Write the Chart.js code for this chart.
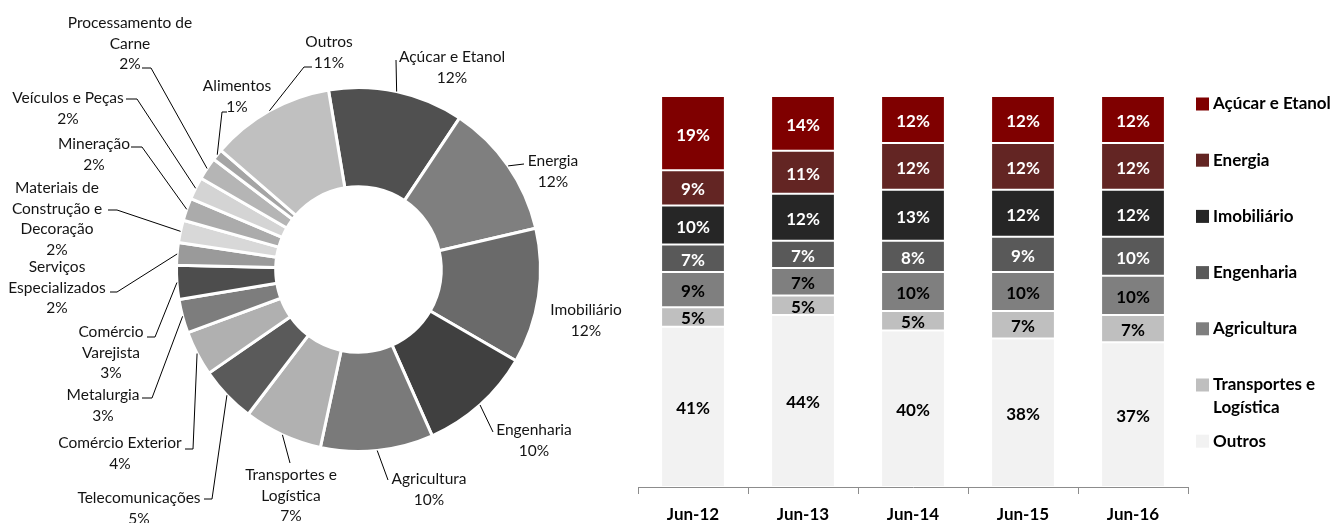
<!DOCTYPE html>
<html>
<head>
<meta charset="utf-8">
<title>Carteira por setor</title>
<style>
  body { margin: 0; background: #fff; }
  #wrap { position: relative; width: 1340px; height: 523px; }
  #pie { position: absolute; left: 0; top: 0; }
  #bars { position: absolute; left: 630px; top: 0; }
</style>
</head>
<body>
<div id="wrap">
  <canvas id="pie" width="630" height="523"></canvas>
  <canvas id="bars" width="710" height="523"></canvas>
</div>
<script src="https://cdn.jsdelivr.net/npm/chart.js"></script>
<script>
// --- doughnut data (clockwise from top) ---
const sectors = [
  "Açúcar e Etanol", "Energia", "Imobiliário", "Engenharia", "Agricultura",
  "Transportes e\nLogística", "Telecomunicações", "Comércio Exterior", "Metalurgia",
  "Comércio\nVarejista", "Serviços\nEspecializados", "Materiais de\nConstrução e\nDecoração",
  "Mineração", "Veículos e Peças", "Processamento de\nCarne", "Alimentos", "Outros"
];
const sectorShares = [12, 12, 12, 10, 10, 7, 5, 4, 3, 3, 2, 2, 2, 2, 2, 1, 11];
const sectorColors = [
  "#505050", "#7f7f7f", "#6a6a6a", "#404040", "#7a7a7a", "#b1b1b1", "#5a5a5a",
  "#b0b0b0", "#7d7d7d", "#4d4d4d", "#9a9a9a", "#d8d8d8", "#ababab", "#d4d4d4",
  "#b5b5b5", "#a5a5a5", "#c0c0c0"
];

// label placement (Excel labels were moved by hand), leader points go from slice outwards
const pieLabelLayout = [
  { x: 452, y: 57,  leader: [[396, 60]] },
  { x: 553, y: 161, leader: [[524, 164]] },
  { x: 586, y: 310, leader: [] },
  { x: 534, y: 430, leader: [[493, 432]] },
  { x: 429, y: 479, leader: [[388, 480]] },
  { x: 291, y: 475, leader: [[290, 463]] },
  { x: 139, y: 498, leader: [[212, 499], [204, 499]] },
  { x: 120, y: 443, leader: [[193, 449], [185, 449]] },
  { x: 103, y: 395, leader: [[152, 398], [142, 398]] },
  { x: 111, y: 332, leader: [[155, 337], [147, 337]] },
  { x: 57,  y: 267, leader: [[117, 292], [110, 292]] },
  { x: 57,  y: 188, leader: [[117, 210], [108, 210]] },
  { x: 94,  y: 144, leader: [[142, 147], [131, 147]] },
  { x: 68,  y: 98,  leader: [[137, 99], [126, 99]] },
  { x: 130, y: 23,  leader: [[151, 68], [142, 68]] },
  { x: 237, y: 86,  leader: [[222, 112], [227, 112]] },
  { x: 329, y: 42,  leader: [[304, 67], [312, 67]] }
];

// --- stacked bar data ---
const periods = ["Jun-12", "Jun-13", "Jun-14", "Jun-15", "Jun-16"];
const acucarEtanol = [19, 14, 12, 12, 12];
const energia = [9, 11, 12, 12, 12];
const imobiliario = [10, 12, 13, 12, 12];
const engenharia = [7, 7, 8, 9, 10];
const agricultura = [9, 7, 10, 10, 10];
const transportes = [5, 5, 5, 7, 7];
const outros = [41, 44, 40, 38, 37];

Chart.defaults.font.family = "Lato, 'Open Sans', sans-serif";
Chart.defaults.color = "#1a1a1a";

const pieLabels = {
  id: "pieLabels",
  afterDraw(chart) {
    const ctx = chart.ctx;
    const arcs = chart.getDatasetMeta(0).data;
    ctx.save();
    ctx.strokeStyle = "#000";
    ctx.lineWidth = 1;
    ctx.fillStyle = "#141414";
    ctx.font = "15.5px Lato";
    ctx.textAlign = "center";
    ctx.textBaseline = "middle";
    arcs.forEach((arc, i) => {
      const lay = pieLabelLayout[i];
      const mid = (arc.startAngle + arc.endAngle) / 2;
      const sx = arc.x + Math.cos(mid) * arc.outerRadius;
      const sy = arc.y + Math.sin(mid) * arc.outerRadius;
      if (lay.leader.length) {
        ctx.beginPath();
        ctx.moveTo(sx, sy);
        lay.leader.forEach((p) => ctx.lineTo(p[0], p[1]));
        ctx.stroke();
      }
      const lines = sectors[i].split("\n").concat(sectorShares[i] + "%");
      lines.forEach((t, k) => ctx.fillText(t, lay.x, lay.y + k * 20.7));
    });
    ctx.restore();
  }
};

new Chart(document.getElementById("pie"), {
  type: "doughnut",
  data: {
    labels: sectors,
    datasets: [{
      data: sectorShares,
      backgroundColor: sectorColors,
      borderColor: "#fff",
      borderWidth: 3,
      hoverOffset: 0
    }]
  },
  options: {
    responsive: false,
    animation: false,
    events: [],
    rotation: -9.5,
    cutout: "45.5%",
    layout: { padding: { left: 175, right: 88, top: 86, bottom: 70 } },
    plugins: { legend: { display: false }, tooltip: { enabled: false } }
  },
  plugins: [pieLabels]
});

// bottom -> top
const barSeries = [
  { label: "Outros", data: outros, color: "#f2f2f2", text: "#000" },
  { label: "Transportes e Logística", data: transportes, color: "#bfbfbf", text: "#000" },
  { label: "Agricultura", data: agricultura, color: "#7f7f7f", text: "#000" },
  { label: "Engenharia", data: engenharia, color: "#595959", text: "#fff" },
  { label: "Imobiliário", data: imobiliario, color: "#262626", text: "#fff" },
  { label: "Energia", data: energia, color: "#632523", text: "#fff" },
  { label: "Açúcar e Etanol", data: acucarEtanol, color: "#7f0000", text: "#fff" }
];

const barLabels = {
  id: "barLabels",
  afterDatasetsDraw(chart) {
    const ctx = chart.ctx;
    ctx.save();
    ctx.font = "bold 17px Lato";
    ctx.textAlign = "center";
    ctx.textBaseline = "middle";
    chart.data.datasets.forEach((ds, di) => {
      chart.getDatasetMeta(di).data.forEach((bar, i) => {
        ctx.fillStyle = barSeries[di].text;
        ctx.fillText(ds.data[i] + "%", bar.x, (bar.y + bar.base) / 2 + 2);
      });
    });
    ctx.restore();
  }
};

function wrapText(ctx, text, maxW) {
  const words = text.split(" ");
  const out = [];
  let cur = "";
  words.forEach((w) => {
    const t = cur ? cur + " " + w : w;
    if (ctx.measureText(t).width > maxW && cur) { out.push(cur); cur = w; }
    else cur = t;
  });
  out.push(cur);
  return out;
}

const sideLegend = {
  id: "sideLegend",
  afterDraw(chart) {
    const ctx = chart.ctx;
    const x0 = chart.chartArea.right + 8;
    ctx.save();
    ctx.font = "bold 17px Lato";
    ctx.textBaseline = "middle";
    ctx.textAlign = "left";
    const items = chart.data.datasets.slice().reverse();
    items.forEach((ds, i) => {
      const y = 104 + i * 56.2;
      ctx.fillStyle = ds.backgroundColor;
      ctx.fillRect(x0, y - 6.5, 13, 13);
      ctx.fillStyle = "#000";
      wrapText(ctx, ds.label, 135).forEach((t, k) => ctx.fillText(t, x0 + 17, y + k * 23));
    });
    ctx.restore();
  }
};

new Chart(document.getElementById("bars"), {
  type: "bar",
  data: {
    labels: periods,
    datasets: barSeries.map((s) => ({
      label: s.label,
      data: s.data,
      backgroundColor: s.color,
      borderColor: "rgba(255,255,255,0.25)",
      borderWidth: 1,
      borderSkipped: false,
      barPercentage: 0.58,
      categoryPercentage: 1
    }))
  },
  options: {
    responsive: false,
    animation: false,
    events: [],
    layout: { padding: { left: 8, right: 152, top: 96, bottom: 0 } },
    plugins: { legend: { display: false }, tooltip: { enabled: false } },
    scales: {
      x: {
        stacked: true,
        grid: { display: true, drawOnChartArea: false, drawTicks: true, tickLength: 7, color: "#8c8c8c", offset: true },
        border: { display: true, color: "#8c8c8c", width: 1 },
        ticks: { color: "#000", font: { size: 17, weight: "bold" }, padding: 10 },
        afterFit(scale) { scale.height = 36; }
      },
      y: { stacked: true, min: 0, max: 100, display: false }
    }
  },
  plugins: [barLabels, sideLegend]
});
</script>
</body>
</html>
